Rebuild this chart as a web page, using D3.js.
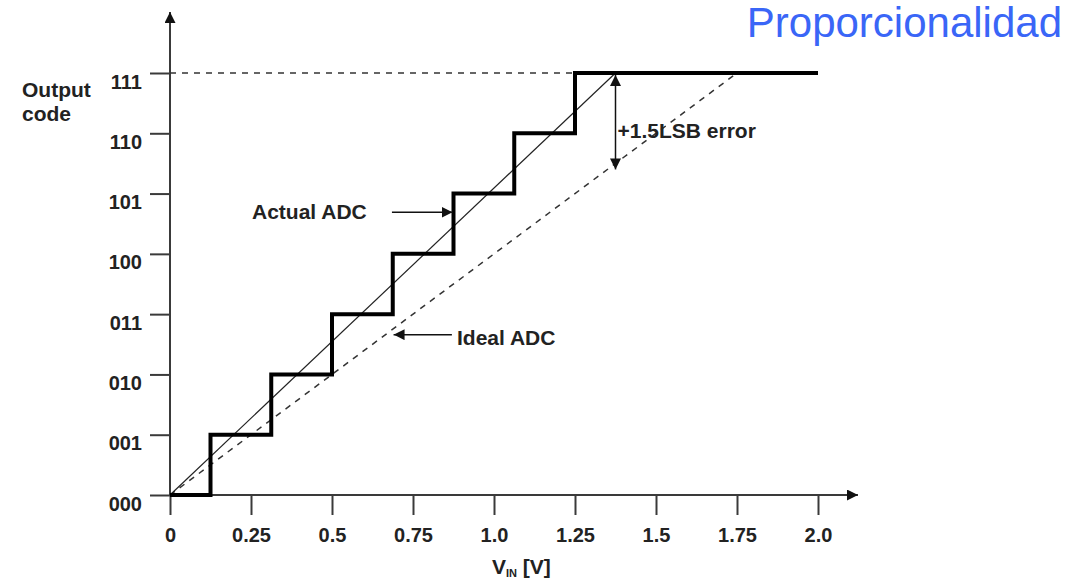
<!DOCTYPE html>
<html>
<head>
<meta charset="utf-8">
<script src="https://cdn.jsdelivr.net/npm/d3@7"></script>
<style>
  html, body { margin: 0; padding: 0; background: #fff; }
  svg { display: block; font-family: "Liberation Sans", Arial, sans-serif; }
</style>
</head>
<body>
<div id="chart"></div>
<script>
// ========================
// DATA
// ========================
const codeLabels = ["000", "001", "010", "011", "100", "101", "110", "111"];
const voltTicks = [0, 0.25, 0.5, 0.75, 1.0, 1.25, 1.5, 1.75, 2.0];
const voltLabels = ["0", "0.25", "0.5", "0.75", "1.0", "1.25", "1.5", "1.75", "2.0"];

// actual ADC: input voltage where each new code starts
const actualSteps = [
    [0, 0], [0.125, 1], [0.3125, 2], [0.5, 3], [0.6875, 4],
    [0.875, 5], [1.0625, 6], [1.25, 7], [2.0, 7]
];
const actualFit = [[0, 0], [1.375, 7]];      // thin line through the steps
const idealLine = [[0, 0], [1.75, 7]];       // dashed ideal ADC
const fullScaleRef = [[0, 7], [1.25, 7]];    // dashed reference at 111
const errorMark = { v: 1.375, top: 7, bottom: 5.4, label: "+1.5LSB error" };

// ========================
// SETUP
// ========================
const width = 1084, height = 584;
const svg = d3.select("#chart").append("svg")
    .attr("width", width)
    .attr("height", height);

const x = d3.scaleLinear().domain([0, 2]).range([170, 818]);
const y = d3.scaleLinear().domain([0, 7]).range([495, 73]);

const defs = svg.append("defs");
defs.append("marker")
    .attr("id", "tri")
    .attr("viewBox", "0 0 10 10")
    .attr("refX", 10).attr("refY", 5)
    .attr("markerWidth", 11).attr("markerHeight", 11)
    .attr("markerUnits", "userSpaceOnUse")
    .attr("orient", "auto-start-reverse")
    .append("path")
    .attr("d", "M0,0 L10,5 L0,10 Z")
    .attr("fill", "#111");

// ========================
// AXES
// ========================
const axisColor = "#3a3a3a";
const labelFont = "21px";

const xAxis = svg.append("g")
    .attr("transform", `translate(0,${y(0)})`)
    .call(d3.axisBottom(x).tickValues(voltTicks)
        .tickFormat((d, i) => voltLabels[i])
        .tickSize(20).tickSizeOuter(0).tickPadding(13));
xAxis.select(".domain").remove();

const yAxis = svg.append("g")
    .attr("transform", `translate(${x(0)},0)`)
    .call(d3.axisLeft(y).tickValues(d3.range(8))
        .tickFormat(d => codeLabels[d])
        .tickSize(20).tickSizeOuter(0).tickPadding(8));
yAxis.select(".domain").remove();

svg.selectAll(".tick line").attr("stroke", axisColor).attr("stroke-width", 2);
svg.selectAll(".tick text")
    .attr("fill", "#222")
    .attr("font-size", "20px")
    .attr("font-weight", "bold")
    .attr("font-family", "Liberation Sans, Arial, sans-serif");
yAxis.selectAll(".tick text").attr("dy", "0.75em");

// main axis lines with arrowheads
svg.append("line")
    .attr("x1", x(0)).attr("y1", y(0))
    .attr("x2", 858).attr("y2", y(0))
    .attr("stroke", axisColor).attr("stroke-width", 2)
    .attr("marker-end", "url(#tri)");
svg.append("line")
    .attr("x1", x(0)).attr("y1", y(0))
    .attr("x2", x(0)).attr("y2", 12)
    .attr("stroke", axisColor).attr("stroke-width", 2)
    .attr("marker-end", "url(#tri)");

// axis titles
const yTitle = svg.append("text")
    .attr("x", 22).attr("y", 97)
    .attr("font-size", labelFont).attr("font-weight", "bold").attr("fill", "#222");
yTitle.append("tspan").attr("x", 22).text("Output");
yTitle.append("tspan").attr("x", 22).attr("dy", 24).text("code");

const xTitle = svg.append("text")
    .attr("x", 492).attr("y", 574)
    .attr("font-size", labelFont).attr("font-weight", "bold").attr("fill", "#222");
xTitle.append("tspan").text("V");
xTitle.append("tspan").attr("font-size", "11px").attr("dy", 3).text("IN");
xTitle.append("tspan").attr("dy", -3).text(" [V]");

// ========================
// LINES
// ========================
const line = d3.line().x(d => x(d[0])).y(d => y(d[1]));

svg.append("path")
    .attr("d", line(fullScaleRef))
    .attr("fill", "none").attr("stroke", "#333")
    .attr("stroke-width", 1.3).attr("stroke-dasharray", "6,6");

svg.append("path")
    .attr("d", line(idealLine))
    .attr("fill", "none").attr("stroke", "#333")
    .attr("stroke-width", 1.5).attr("stroke-dasharray", "6,6");

svg.append("path")
    .attr("d", line(actualFit))
    .attr("fill", "none").attr("stroke", "#222")
    .attr("stroke-width", 1.2);

svg.append("path")
    .attr("d", line.curve(d3.curveStepAfter)(actualSteps))
    .attr("fill", "none").attr("stroke", "#000")
    .attr("stroke-width", 4);
line.curve(d3.curveLinear);

// ========================
// ANNOTATIONS
// ========================
// error double arrow
svg.append("line")
    .attr("x1", x(errorMark.v)).attr("y1", y(errorMark.top) + 2)
    .attr("x2", x(errorMark.v)).attr("y2", y(errorMark.bottom))
    .attr("stroke", "#111").attr("stroke-width", 1.5)
    .attr("marker-start", "url(#tri)")
    .attr("marker-end", "url(#tri)");
svg.append("text")
    .attr("x", x(errorMark.v) + 2).attr("y", 138)
    .attr("font-size", labelFont).attr("font-weight", "bold").attr("fill", "#222")
    .text(errorMark.label);

// Actual ADC label
svg.append("text")
    .attr("x", 252).attr("y", y(4.69) + 7)
    .attr("font-size", labelFont).attr("font-weight", "bold").attr("fill", "#222")
    .text("Actual ADC");
svg.append("line")
    .attr("x1", x(0.685)).attr("y1", y(4.69))
    .attr("x2", x(0.872)).attr("y2", y(4.69))
    .attr("stroke", "#111").attr("stroke-width", 1.5)
    .attr("marker-end", "url(#tri)");

// Ideal ADC label
svg.append("text")
    .attr("x", 457).attr("y", y(2.6) + 7)
    .attr("font-size", labelFont).attr("font-weight", "bold").attr("fill", "#222")
    .text("Ideal ADC");
svg.append("line")
    .attr("x1", x(0.87)).attr("y1", y(2.66))
    .attr("x2", x(0.69)).attr("y2", y(2.66))
    .attr("stroke", "#111").attr("stroke-width", 1.5)
    .attr("marker-end", "url(#tri)");

// slide title
svg.append("text")
    .attr("x", 1062).attr("y", 37)
    .attr("text-anchor", "end")
    .attr("font-size", "42px")
    .attr("fill", "#3a66f7")
    .text("Proporcionalidad");
</script>
</body>
</html>
